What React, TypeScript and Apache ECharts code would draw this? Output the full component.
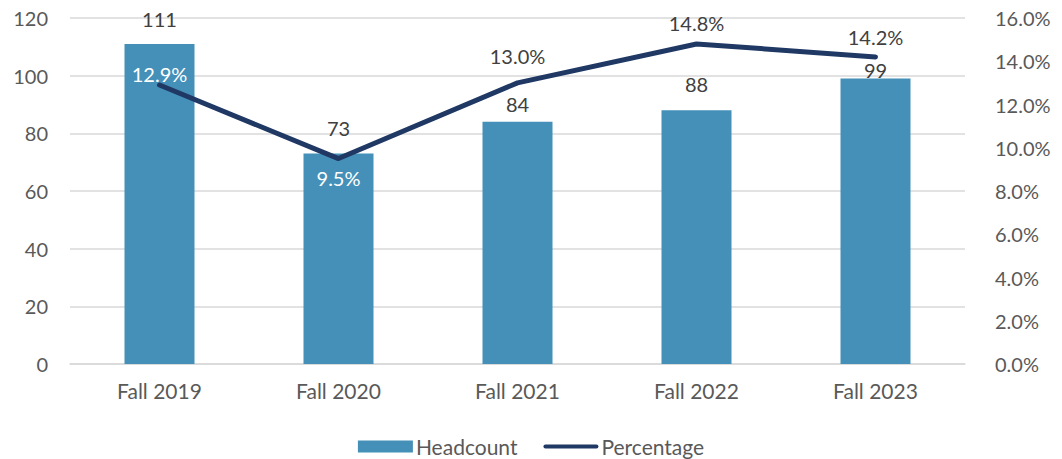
import React, { useEffect, useRef } from "react";
import * as echarts from "echarts";

const categories = ["Fall 2019", "Fall 2020", "Fall 2021", "Fall 2022", "Fall 2023"];
const headcount = [111, 73, 84, 88, 99];
const percentage = [12.9, 9.5, 13.0, 14.8, 14.2];
// label placement (styling only)
const barLabelDist = [15, 16, 8, 16, -1];
const pctLabelPos = ["top", "bottom", "top", "top", "top"];
const pctLabelDist = [1, 9, 16, 10, 9];
const pctLabelColor = ["#ffffff", "#ffffff", "#404040", "#404040", "#404040"];

const FONT = "Lato, 'Open Sans', sans-serif";
const TXT = "#595959";

export default function App() {
  const ref = useRef<HTMLDivElement>(null);
  useEffect(() => {
    if (!ref.current) return;
    const chart = echarts.init(ref.current, null, { renderer: "svg" });
    chart.setOption({
      animation: false,
      textStyle: { fontFamily: FONT },
      grid: { left: 70, right: 97, top: 18, bottom: 95 },
      legend: {
        top: 431,
        left: "center",
        itemWidth: 55,
        itemHeight: 12,
        itemGap: 26,
        textStyle: { fontFamily: FONT, fontSize: 21, color: TXT, padding: [0, 0, 0, -2] },
        data: [
          { name: "Headcount", icon: "rect" },
          { name: "Percentage", icon: "path://M2,0H53A2,2,0,0,1,53,4H2A2,2,0,0,1,2,0Z" },
        ],
      },
      xAxis: {
        type: "category",
        data: categories,
        axisLine: { lineStyle: { color: "#d9d9d9", width: 1.5 } },
        axisTick: { show: false },
        axisLabel: { color: TXT, fontSize: 21, margin: 16, fontFamily: FONT },
      },
      yAxis: [
        {
          type: "value",
          min: 0,
          max: 120,
          interval: 20,
          axisLine: { show: false },
          axisTick: { show: false },
          splitLine: { lineStyle: { color: "#d9d9d9", width: 1.5 } },
          axisLabel: { color: TXT, fontSize: 20, margin: 22, fontFamily: FONT },
        },
        {
          type: "value",
          min: 0,
          max: 16,
          interval: 2,
          axisLine: { show: false },
          axisTick: { show: false },
          splitLine: { show: false },
          axisLabel: {
            color: TXT,
            fontSize: 20,
            margin: 30,
            fontFamily: FONT,
            formatter: (v: number) => v.toFixed(1) + "%",
          },
        },
      ],
      series: [
        {
          name: "Headcount",
          type: "bar",
          data: headcount.map((v, i) => ({
            value: v,
            label: { distance: barLabelDist[i] },
          })),
          barWidth: 70,
          itemStyle: { color: "#4590b8" },
          label: {
            show: true,
            position: "top",
            color: "#404040",
            fontSize: 20,
            fontFamily: FONT,
          },
        },
        {
          name: "Percentage",
          type: "line",
          yAxisIndex: 1,
          data: percentage.map((v, i) => ({
            value: v,
            label: {
              show: true,
              position: pctLabelPos[i],
              distance: pctLabelDist[i],
              color: pctLabelColor[i],
            },
          })),
          symbol: "circle",
          symbolSize: 1,
          showSymbol: true,
          lineStyle: { color: "#1f3864", width: 5, cap: "round", join: "round" },
          itemStyle: { color: "#1f3864" },
          label: {
            show: true,
            fontSize: 20,
            fontFamily: FONT,
            formatter: (p: any) => Number(p.value).toFixed(1) + "%",
          },
          z: 3,
        },
      ],
    });
    return () => chart.dispose();
  }, []);
  return (
    <div
      ref={ref}
      style={{ position: "absolute", left: 0, top: 0, width: 1062, height: 459 }}
    />
  );
}
